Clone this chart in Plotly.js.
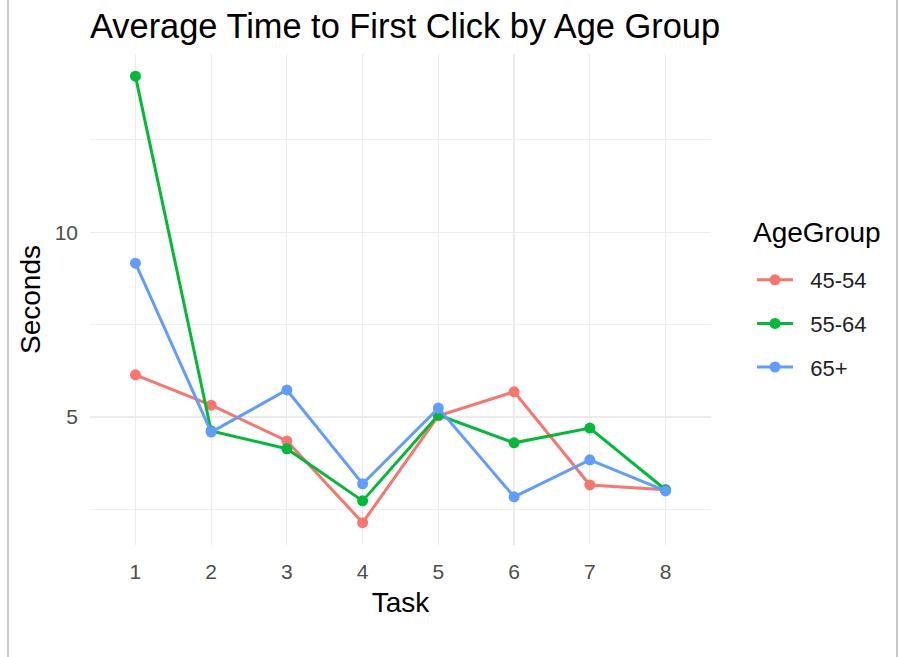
<!DOCTYPE html>
<html>
<head>
<meta charset="utf-8">
<script src="https://cdn.plot.ly/plotly-3.0.1.min.js"></script>
<style>
html,body{margin:0;padding:0;background:#fff;}
#chart{width:899px;height:657px;}
</style>
</head>
<body>
<div id="chart"></div>
<script>
const tasks = [1, 2, 3, 4, 5, 6, 7, 8];
const groups = ["45-54", "55-64", "65+"];
const age4554 = [6.14, 5.32, 4.35, 2.14, 5.03, 5.68, 3.16, 3.03];
const age5564 = [14.22, 4.62, 4.14, 2.73, 5.05, 4.30, 4.70, 3.03];
const age65plus = [9.16, 4.59, 5.73, 3.19, 5.24, 2.84, 3.84, 3.00];
const yTickVals = [5, 10];
const yTickText = ["5", "10"];
const yMinorVals = [2.5, 7.5, 12.5];

const colors = ["#F8766D", "#00BA38", "#619CFF"];
const series = [age4554, age5564, age65plus];

const traces = series.map((vals, i) => ({
  x: tasks,
  y: vals,
  name: "\u00a0\u00a0" + groups[i],
  type: "scatter",
  mode: "lines+markers",
  legendgroup: groups[i],
  line: {color: colors[i], width: 3},
  marker: {color: colors[i], size: 11}
}));

const layout = {
  width: 899,
  height: 657,
  paper_bgcolor: "#ffffff",
  plot_bgcolor: "#ffffff",
  margin: {l: 90, r: 188, t: 54, b: 112},
  font: {family: "Liberation Sans, Arial, sans-serif", color: "#000"},
  title: {
    text: "Average Time to First Click by Age Group",
    font: {size: 34.4, color: "#000"},
    x: 90 / 899, xanchor: "left", xref: "container",
    y: 1 - 26 / 657, yanchor: "middle", yref: "container"
  },
  xaxis: {
    range: [0.4, 8.6],
    tickvals: tasks,
    ticktext: tasks.map(String),
    showgrid: true, gridcolor: "#EBEBEB", gridwidth: 1.2,
    zeroline: false, showline: false, ticks: "",
    ticklabelstandoff: 12,
    tickfont: {size: 21, color: "#4D4D4D"},
    title: {text: "Task", font: {size: 28, color: "#000"}, standoff: 10}
  },
  yaxis: {
    range: [1.536, 14.82],
    tickvals: yTickVals,
    ticktext: yTickText,
    showgrid: true, gridcolor: "#EBEBEB", gridwidth: 1.2,
    minor: {tickvals: yMinorVals, showgrid: true, gridcolor: "#EFEFEF", gridwidth: 1},
    zeroline: false, showline: false, ticks: "",
    ticklabelstandoff: 11,
    tickfont: {size: 21, color: "#4D4D4D"},
    title: {text: "Seconds", font: {size: 28, color: "#000"}, standoff: 5}
  },
  showlegend: true,
  legend: {
    x: 1.066, xanchor: "left",
    y: (545 - 259) / 491, yanchor: "top",
    font: {size: 22, color: "#222"},
    tracegroupgap: 12,
    itemwidth: 36,
    bgcolor: "rgba(0,0,0,0)"
  },
  annotations: [
    {text: "AgeGroup", xref: "paper", yref: "paper",
     x: (751 - 90) / 621, xanchor: "left", y: (545 - 232) / 491, yanchor: "middle",
     showarrow: false, font: {size: 28, color: "#000"}}
  ],
  shapes: [
    {type: "line", xref: "paper", yref: "paper", x0: (8 - 90) / 621, x1: (8 - 90) / 621, y0: -0.3, y1: 1.2,
     line: {color: "#C8C8C8", width: 2}},
    {type: "line", xref: "paper", yref: "paper", x0: (897 - 90) / 621, x1: (897 - 90) / 621, y0: -0.3, y1: 1.2,
     line: {color: "#C8C8C8", width: 2}}
  ]
};

Plotly.newPlot("chart", traces, layout, {displayModeBar: false, staticPlot: true});
</script>
</body>
</html>
